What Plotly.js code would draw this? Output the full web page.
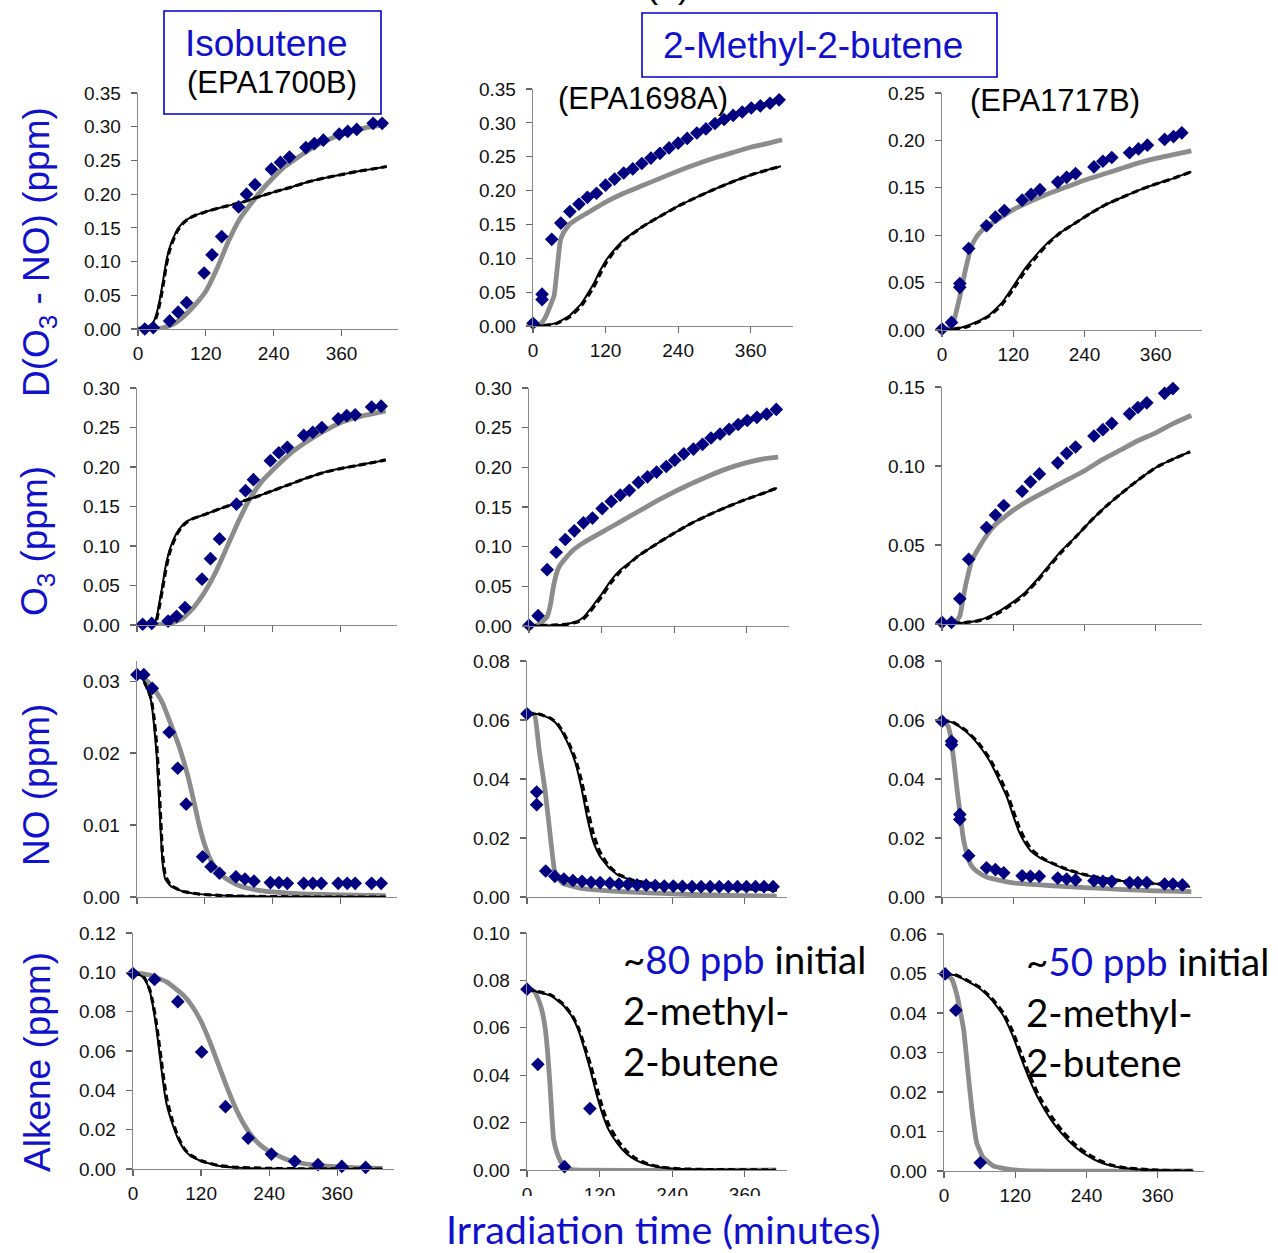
<!DOCTYPE html>
<html><head><meta charset="utf-8">
<script src="https://cdn.plot.ly/plotly-3.0.1.min.js"></script>
<style>html,body{margin:0;padding:0;background:#fff}</style>
</head><body><div id="chart" style="width:1278px;height:1253px"></div>
<script>
// ---------------- DATA ----------------
const TICK_X = [0, 120, 240, 360];
const TICK_X_TEXT = ['0', '120', '240', '360'];

// Isobutene (EPA1700B) - D(O3-NO)
const ISO_D_OBS_T = [12, 27, 56, 71, 86, 117, 131, 148, 178, 192, 207, 236, 252, 268, 297, 312, 328, 356, 371, 387, 416, 432];
const ISO_D_OBS_V = [0.000, 0.002, 0.012, 0.025, 0.039, 0.083, 0.110, 0.137, 0.181, 0.200, 0.214, 0.237, 0.247, 0.255, 0.269, 0.275, 0.280, 0.289, 0.293, 0.296, 0.305, 0.305];
const ISO_D_GRAY_T = [0, 20, 40, 60, 80, 100, 120, 140, 160, 180, 200, 220, 240, 260, 280, 300, 320, 340, 360, 380, 400, 420, 440];
const ISO_D_GRAY_V = [0, 0, 0.001, 0.006, 0.018, 0.035, 0.056, 0.090, 0.130, 0.163, 0.186, 0.207, 0.225, 0.241, 0.253, 0.264, 0.274, 0.282, 0.289, 0.294, 0.298, 0.301, 0.304];
const ISO_D_BLK_T = [0, 15, 25, 30, 35, 40, 45, 50, 55, 60, 70, 80, 90, 100, 120, 150, 180, 210, 240, 270, 300, 330, 360, 390, 420, 440];
const ISO_D_BLK_V = [0, 0.001, 0.008, 0.015, 0.030, 0.050, 0.075, 0.100, 0.118, 0.130, 0.148, 0.158, 0.164, 0.168, 0.174, 0.181, 0.187, 0.195, 0.203, 0.210, 0.218, 0.224, 0.229, 0.234, 0.238, 0.241];
const ISO_D_DSH_V = [0, 0.001, 0.006, 0.012, 0.025, 0.044, 0.068, 0.094, 0.114, 0.127, 0.146, 0.157, 0.164, 0.168, 0.174, 0.181, 0.187, 0.195, 0.203, 0.210, 0.218, 0.224, 0.229, 0.234, 0.238, 0.241];

// Isobutene - O3
const ISO_O_OBS_T = [10, 26, 55, 70, 85, 115, 130, 146, 176, 192, 206, 236, 251, 266, 295, 311, 327, 356, 371, 386, 415, 432];
const ISO_O_OBS_V = [0.001, 0.002, 0.005, 0.011, 0.022, 0.058, 0.084, 0.109, 0.153, 0.170, 0.184, 0.208, 0.218, 0.225, 0.240, 0.244, 0.250, 0.261, 0.265, 0.266, 0.276, 0.277];
const ISO_O_GRAY_T = [0, 30, 60, 80, 100, 120, 140, 160, 180, 200, 220, 240, 260, 280, 300, 320, 340, 360, 380, 400, 420, 440];
const ISO_O_GRAY_V = [0, 0, 0.002, 0.008, 0.022, 0.042, 0.068, 0.100, 0.132, 0.160, 0.181, 0.196, 0.210, 0.222, 0.232, 0.241, 0.249, 0.256, 0.261, 0.265, 0.268, 0.271];
const ISO_O_BLK_T = [0, 25, 30, 35, 40, 45, 50, 55, 60, 70, 80, 90, 100, 120, 150, 180, 210, 240, 270, 300, 330, 360, 390, 420, 440];
const ISO_O_BLK_V = [0, 0, 0.001, 0.010, 0.030, 0.050, 0.072, 0.088, 0.100, 0.116, 0.126, 0.132, 0.135, 0.140, 0.148, 0.155, 0.162, 0.170, 0.178, 0.186, 0.193, 0.198, 0.202, 0.206, 0.209];
const ISO_O_DSH_V = [0, 0, 0.001, 0.007, 0.025, 0.045, 0.066, 0.084, 0.097, 0.114, 0.125, 0.131, 0.135, 0.140, 0.148, 0.155, 0.162, 0.170, 0.178, 0.186, 0.193, 0.198, 0.202, 0.206, 0.209];

// Isobutene - NO
const ISO_N_OBS_T = [0, 12, 27, 57, 72, 87, 116, 131, 146, 175, 191, 207, 236, 251, 266, 295, 311, 326, 356, 372, 386, 415, 432];
const ISO_N_OBS_V = [0.0309, 0.0309, 0.0290, 0.0229, 0.0179, 0.0129, 0.0056, 0.0042, 0.0033, 0.0028, 0.0025, 0.0022, 0.0020, 0.0020, 0.0019, 0.0019, 0.0019, 0.0019, 0.0019, 0.0019, 0.0019, 0.0019, 0.0019];
const ISO_N_GRAY_T = [0, 15, 30, 45, 60, 75, 90, 100, 110, 120, 130, 140, 150, 165, 180, 210, 240, 300, 360, 440];
const ISO_N_GRAY_V = [0.0310, 0.0302, 0.0290, 0.0270, 0.0240, 0.0208, 0.0168, 0.0135, 0.0100, 0.0072, 0.0052, 0.0039, 0.0030, 0.0022, 0.0016, 0.0010, 0.0007, 0.0004, 0.0003, 0.0002];
const ISO_N_BLK_T = [0, 10, 20, 25, 30, 35, 40, 45, 50, 60, 80, 110, 150, 200, 300, 440];
const ISO_N_BLK_V = [0.0310, 0.0303, 0.0285, 0.0272, 0.0240, 0.0195, 0.0120, 0.0050, 0.0025, 0.0015, 0.0008, 0.0004, 0.0002, 0.0001, 0.0000, 0.0000];
const ISO_N_DSH_V = [0.0310, 0.0303, 0.0287, 0.0276, 0.0250, 0.0210, 0.0140, 0.0062, 0.0030, 0.0016, 0.0008, 0.0004, 0.0002, 0.0001, 0.0000, 0.0000];

// Isobutene - Alkene
const ISO_A_OBS_T = [0, 38, 79, 121, 163, 203, 244, 285, 326, 368, 410];
const ISO_A_OBS_V = [0.0994, 0.0964, 0.0851, 0.0595, 0.0317, 0.0157, 0.0076, 0.0039, 0.0022, 0.0013, 0.0008];
const ISO_A_GRAY_T = [0, 30, 60, 90, 105, 120, 135, 150, 165, 180, 195, 210, 225, 240, 270, 300, 330, 360, 400, 440];
const ISO_A_GRAY_V = [0.100, 0.0986, 0.0950, 0.0880, 0.0825, 0.0750, 0.0650, 0.0535, 0.0420, 0.0315, 0.0230, 0.0165, 0.0120, 0.0090, 0.0050, 0.0028, 0.0017, 0.0011, 0.0006, 0.0003];
const ISO_A_BLK_T = [0, 10, 20, 25, 30, 35, 40, 45, 50, 55, 60, 70, 80, 90, 100, 120, 150, 180, 240, 300, 440];
const ISO_A_BLK_V = [0.100, 0.0990, 0.0970, 0.0940, 0.0900, 0.0830, 0.0740, 0.0630, 0.0510, 0.0400, 0.0320, 0.0225, 0.0150, 0.0100, 0.0070, 0.0040, 0.0017, 0.0008, 0.0002, 0.0001, 0.0000];
const ISO_A_DSH_V = [0.100, 0.0990, 0.0972, 0.0945, 0.0908, 0.0845, 0.0765, 0.0660, 0.0550, 0.0440, 0.0350, 0.0240, 0.0160, 0.0105, 0.0073, 0.0042, 0.0018, 0.0009, 0.0003, 0.0001, 0.0000];

// 2-Methyl-2-butene (EPA1698A, ~80 ppb) - D(O3-NO)
const M80_D_OBS_T = [0, 15, 15, 31, 46, 61, 76, 90, 105, 120, 135, 150, 165, 180, 195, 210, 225, 240, 255, 271, 286, 301, 316, 331, 346, 361, 376, 392, 407];
const M80_D_OBS_V = [0.004, 0.047, 0.039, 0.128, 0.152, 0.169, 0.180, 0.190, 0.196, 0.208, 0.217, 0.226, 0.232, 0.240, 0.248, 0.255, 0.263, 0.270, 0.277, 0.285, 0.291, 0.299, 0.305, 0.311, 0.316, 0.322, 0.325, 0.329, 0.334];
const M80_D_GRAY_T = [0, 10, 20, 30, 35, 40, 45, 50, 60, 75, 90, 120, 150, 180, 210, 240, 270, 300, 330, 360, 390, 412];
const M80_D_GRAY_V = [0, 0, 0.012, 0.033, 0.045, 0.085, 0.125, 0.137, 0.150, 0.159, 0.167, 0.183, 0.196, 0.207, 0.218, 0.229, 0.239, 0.248, 0.256, 0.264, 0.270, 0.275];
const M80_D_BLK_T = [0, 20, 40, 60, 80, 100, 110, 120, 135, 150, 180, 210, 240, 270, 300, 330, 360, 390, 410];
const M80_D_BLK_V = [0, 0.001, 0.005, 0.015, 0.033, 0.062, 0.080, 0.096, 0.113, 0.127, 0.146, 0.162, 0.177, 0.190, 0.202, 0.213, 0.223, 0.231, 0.236];
const M80_D_DSH_V = [0, 0.001, 0.004, 0.013, 0.030, 0.057, 0.075, 0.092, 0.111, 0.126, 0.146, 0.162, 0.177, 0.190, 0.202, 0.213, 0.223, 0.231, 0.236];

// ~80 ppb - O3
const M80_O_OBS_T = [0, 15, 30, 45, 60, 75, 90, 105, 121, 136, 151, 166, 181, 196, 211, 227, 241, 256, 272, 287, 301, 316, 331, 346, 361, 377, 393, 409];
const M80_O_OBS_V = [0.001, 0.013, 0.071, 0.093, 0.109, 0.120, 0.130, 0.136, 0.148, 0.157, 0.165, 0.171, 0.181, 0.188, 0.194, 0.201, 0.209, 0.217, 0.223, 0.229, 0.237, 0.242, 0.248, 0.254, 0.259, 0.263, 0.267, 0.273];
const M80_O_GRAY_T = [0, 10, 20, 30, 35, 40, 45, 50, 60, 75, 90, 120, 150, 180, 210, 240, 270, 300, 330, 360, 390, 412];
const M80_O_GRAY_V = [0, 0, 0.004, 0.012, 0.025, 0.048, 0.065, 0.075, 0.085, 0.097, 0.105, 0.118, 0.131, 0.144, 0.157, 0.169, 0.180, 0.190, 0.199, 0.206, 0.211, 0.213];
const M80_O_BLK_T = [0, 40, 60, 80, 90, 100, 110, 120, 135, 150, 165, 180, 210, 240, 270, 300, 330, 360, 390, 410];
const M80_O_BLK_V = [0, 0.001, 0.002, 0.006, 0.011, 0.020, 0.030, 0.040, 0.057, 0.070, 0.079, 0.088, 0.103, 0.117, 0.130, 0.141, 0.151, 0.160, 0.168, 0.174];
const M80_O_DSH_V = [0, 0.001, 0.002, 0.005, 0.009, 0.017, 0.027, 0.037, 0.054, 0.068, 0.078, 0.088, 0.103, 0.117, 0.130, 0.141, 0.151, 0.160, 0.168, 0.174];

// ~80 ppb - NO
const M80_N_OBS_T = [0, 16, 16, 31, 46, 61, 76, 91, 106, 121, 137, 152, 167, 182, 197, 212, 227, 242, 257, 273, 288, 303, 318, 333, 348, 363, 378, 392, 407];
const M80_N_OBS_V = [0.0621, 0.0356, 0.0313, 0.0088, 0.0070, 0.0061, 0.0056, 0.0053, 0.0050, 0.0049, 0.0047, 0.0044, 0.0043, 0.0041, 0.0040, 0.0039, 0.0037, 0.0037, 0.0036, 0.0035, 0.0035, 0.0035, 0.0035, 0.0035, 0.0035, 0.0035, 0.0035, 0.0035, 0.0035];
const M80_N_GRAY_T = [0, 12, 20, 30, 40, 45, 50, 60, 90, 120, 150, 200, 250, 300, 350, 413];
const M80_N_GRAY_V = [0.0620, 0.0620, 0.0500, 0.0360, 0.0180, 0.0095, 0.0065, 0.0045, 0.0029, 0.0023, 0.0019, 0.0014, 0.0010, 0.0007, 0.0005, 0.0003];
const M80_N_BLK_T = [0, 20, 40, 50, 60, 70, 80, 90, 100, 110, 120, 135, 150, 175, 200, 240, 280, 330, 380, 413];
const M80_N_BLK_V = [0.0620, 0.0620, 0.0603, 0.0584, 0.0552, 0.0510, 0.0455, 0.0370, 0.0265, 0.0185, 0.0140, 0.0100, 0.0075, 0.0056, 0.0047, 0.0040, 0.0035, 0.0030, 0.0026, 0.0023];
const M80_N_DSH_V = [0.0620, 0.0620, 0.0605, 0.0588, 0.0558, 0.0518, 0.0468, 0.0395, 0.0300, 0.0212, 0.0155, 0.0106, 0.0078, 0.0057, 0.0047, 0.0040, 0.0035, 0.0030, 0.0026, 0.0023];

// ~80 ppb - Alkene
const M80_A_OBS_T = [0, 18, 62, 104];
const M80_A_OBS_V = [0.0763, 0.0446, 0.0014, 0.0259];
const M80_A_GRAY_T = [0, 12, 18, 24, 30, 34, 38, 44, 50, 56, 62, 70, 80, 412];
const M80_A_GRAY_V = [0.0763, 0.0755, 0.0725, 0.0680, 0.0600, 0.0500, 0.0360, 0.0130, 0.0070, 0.0035, 0.0013, 0.0004, 0, 0];
const M80_A_BLK_T = [0, 20, 40, 60, 75, 85, 95, 105, 115, 125, 135, 150, 165, 180, 200, 220, 250, 300, 412];
const M80_A_BLK_V = [0.0763, 0.0750, 0.0735, 0.0695, 0.0645, 0.0590, 0.0510, 0.0420, 0.0320, 0.0235, 0.0170, 0.0110, 0.0068, 0.0042, 0.0022, 0.0012, 0.0005, 0.0002, 0];
const M80_A_DSH_V = [0.0763, 0.0752, 0.0738, 0.0700, 0.0652, 0.0600, 0.0525, 0.0445, 0.0350, 0.0262, 0.0192, 0.0125, 0.0078, 0.0048, 0.0025, 0.0013, 0.0005, 0.0002, 0];

// 2-Methyl-2-butene (EPA1717B, ~50 ppb) - D(O3-NO)
const M50_D_OBS_T = [0, 16, 30, 30, 45, 75, 90, 105, 135, 150, 165, 195, 210, 225, 256, 271, 286, 316, 331, 346, 375, 390, 404];
const M50_D_OBS_V = [0.001, 0.008, 0.045, 0.049, 0.086, 0.110, 0.119, 0.126, 0.137, 0.143, 0.148, 0.156, 0.161, 0.165, 0.172, 0.178, 0.182, 0.187, 0.191, 0.195, 0.201, 0.204, 0.208];
const M50_D_GRAY_T = [0, 10, 20, 25, 30, 35, 40, 45, 50, 60, 75, 90, 120, 150, 180, 210, 240, 270, 300, 330, 360, 390, 420];
const M50_D_GRAY_V = [0, 0.001, 0.010, 0.022, 0.035, 0.050, 0.065, 0.078, 0.089, 0.100, 0.109, 0.115, 0.127, 0.136, 0.144, 0.151, 0.158, 0.164, 0.170, 0.176, 0.181, 0.185, 0.189];
const M50_D_BLK_T = [0, 20, 40, 60, 80, 100, 120, 140, 160, 180, 200, 225, 250, 275, 300, 330, 360, 390, 420];
const M50_D_BLK_V = [0, 0.001, 0.004, 0.009, 0.016, 0.028, 0.046, 0.065, 0.080, 0.093, 0.103, 0.113, 0.123, 0.132, 0.139, 0.147, 0.154, 0.160, 0.167];
const M50_D_DSH_V = [0, 0.001, 0.003, 0.008, 0.015, 0.026, 0.043, 0.062, 0.078, 0.092, 0.103, 0.113, 0.123, 0.132, 0.139, 0.147, 0.154, 0.160, 0.167];

// ~50 ppb - O3
const M50_O_OBS_T = [0, 16, 30, 45, 75, 90, 104, 135, 149, 164, 195, 210, 225, 256, 271, 286, 316, 330, 345, 375, 389];
const M50_O_OBS_V = [0.001, 0.001, 0.016, 0.041, 0.061, 0.069, 0.075, 0.084, 0.090, 0.095, 0.102, 0.108, 0.112, 0.119, 0.123, 0.127, 0.133, 0.137, 0.140, 0.146, 0.149];
const M50_O_GRAY_T = [0, 20, 30, 35, 40, 45, 50, 60, 75, 90, 120, 150, 180, 210, 240, 270, 300, 330, 360, 390, 420];
const M50_O_GRAY_V = [0, 0, 0.005, 0.015, 0.025, 0.033, 0.040, 0.047, 0.056, 0.063, 0.072, 0.079, 0.085, 0.091, 0.097, 0.104, 0.110, 0.116, 0.121, 0.127, 0.132];
const M50_O_BLK_T = [0, 40, 60, 80, 100, 120, 140, 160, 180, 200, 225, 250, 275, 300, 330, 360, 390, 418];
const M50_O_BLK_V = [0, 0.001, 0.002, 0.005, 0.009, 0.014, 0.020, 0.028, 0.037, 0.046, 0.055, 0.065, 0.074, 0.082, 0.091, 0.099, 0.1045, 0.109];
const M50_O_DSH_V = [0, 0.001, 0.002, 0.004, 0.008, 0.013, 0.019, 0.027, 0.036, 0.045, 0.055, 0.065, 0.074, 0.082, 0.091, 0.099, 0.1045, 0.109];

// ~50 ppb - NO
const M50_N_OBS_T = [0, 16, 16, 30, 30, 45, 75, 90, 104, 135, 149, 164, 195, 210, 225, 256, 271, 286, 316, 330, 345, 375, 389, 405];
const M50_N_OBS_V = [0.0596, 0.0528, 0.0516, 0.0280, 0.0263, 0.0140, 0.0099, 0.0093, 0.0082, 0.0072, 0.0070, 0.0070, 0.0064, 0.0061, 0.0058, 0.0055, 0.0053, 0.0053, 0.0049, 0.0049, 0.0049, 0.0044, 0.0044, 0.0041];
const M50_N_GRAY_T = [0, 10, 15, 20, 25, 30, 35, 40, 45, 50, 60, 75, 90, 120, 150, 180, 240, 300, 360, 420];
const M50_N_GRAY_V = [0.0600, 0.0580, 0.0540, 0.0460, 0.0370, 0.0290, 0.0210, 0.0160, 0.0125, 0.0105, 0.0085, 0.0068, 0.0060, 0.0048, 0.0043, 0.0039, 0.0032, 0.0026, 0.0021, 0.0018];
const M50_N_BLK_T = [0, 20, 40, 60, 80, 100, 110, 120, 130, 140, 150, 165, 180, 210, 240, 270, 300, 330, 360, 390, 418];
const M50_N_BLK_V = [0.0600, 0.0590, 0.0562, 0.0520, 0.0462, 0.0380, 0.0335, 0.0275, 0.0220, 0.0182, 0.0155, 0.0133, 0.0118, 0.0093, 0.0075, 0.0063, 0.0055, 0.0050, 0.0045, 0.0040, 0.0035];
const M50_N_DSH_V = [0.0600, 0.0591, 0.0565, 0.0526, 0.0470, 0.0395, 0.0350, 0.0292, 0.0236, 0.0194, 0.0163, 0.0137, 0.0120, 0.0094, 0.0076, 0.0064, 0.0056, 0.0050, 0.0045, 0.0040, 0.0035];

// ~50 ppb - Alkene
const M50_A_OBS_T = [2, 20, 61];
const M50_A_OBS_V = [0.0499, 0.0407, 0.0021];
const M50_A_GRAY_T = [0, 13, 22, 33, 41, 47, 55, 66, 83, 110, 150, 420];
const M50_A_GRAY_V = [0.0500, 0.0486, 0.0444, 0.0359, 0.0241, 0.0156, 0.0072, 0.0034, 0.0013, 0.0004, 0, 0];
const M50_A_BLK_T = [0, 20, 40, 60, 80, 100, 115, 130, 145, 160, 180, 200, 220, 240, 260, 280, 300, 330, 360, 420];
const M50_A_BLK_V = [0.0500, 0.0495, 0.0480, 0.0462, 0.0434, 0.0393, 0.0345, 0.0285, 0.0228, 0.0180, 0.0130, 0.0092, 0.0062, 0.0040, 0.0024, 0.0014, 0.0008, 0.0004, 0.0002, 0];
const M50_A_DSH_V = [0.0500, 0.0496, 0.0482, 0.0465, 0.0438, 0.0400, 0.0356, 0.0298, 0.0240, 0.0190, 0.0140, 0.0100, 0.0068, 0.0045, 0.0028, 0.0016, 0.0009, 0.0005, 0.0002, 0];

// ---------------- LAYOUT (geometry & style) ----------------
const W = 1278, H = 1253;
const FA = '"Liberation Sans", Arial, Helvetica, sans-serif';
const FC = 'Lato, Carlito, Calibri, sans-serif';
const BLUE = '#1111CC';
const NAVY = '#000080';

// panel boxes in pixels: [x0, x1], [yTop, yBottom]
const PANELS = [
  {px:[138,398], py:[93,329],  xr:[0,460], yr:[0,0.35],   dy:0.05, d:[ISO_D_OBS_T,ISO_D_OBS_V,ISO_D_GRAY_T,ISO_D_GRAY_V,ISO_D_BLK_T,ISO_D_BLK_V,ISO_D_DSH_V]},
  {px:[533,793], py:[89,326],  xr:[0,430], yr:[0,0.35],   dy:0.05, d:[M80_D_OBS_T,M80_D_OBS_V,M80_D_GRAY_T,M80_D_GRAY_V,M80_D_BLK_T,M80_D_BLK_V,M80_D_DSH_V]},
  {px:[942,1202],py:[93,330],  xr:[0,438], yr:[0,0.25],   dy:0.05, d:[M50_D_OBS_T,M50_D_OBS_V,M50_D_GRAY_T,M50_D_GRAY_V,M50_D_BLK_T,M50_D_BLK_V,M50_D_DSH_V]},
  {px:[137,397], py:[388,625], xr:[0,460], yr:[0,0.30],   dy:0.05, d:[ISO_O_OBS_T,ISO_O_OBS_V,ISO_O_GRAY_T,ISO_O_GRAY_V,ISO_O_BLK_T,ISO_O_BLK_V,ISO_O_DSH_V]},
  {px:[529,789], py:[388,626], xr:[0,430], yr:[0,0.30],   dy:0.05, d:[M80_O_OBS_T,M80_O_OBS_V,M80_O_GRAY_T,M80_O_GRAY_V,M80_O_BLK_T,M80_O_BLK_V,M80_O_DSH_V]},
  {px:[942,1202],py:[387,624], xr:[0,438], yr:[0,0.15],   dy:0.05, d:[M50_O_OBS_T,M50_O_OBS_V,M50_O_GRAY_T,M50_O_GRAY_V,M50_O_BLK_T,M50_O_BLK_V,M50_O_DSH_V]},
  {px:[137,397], py:[661,897], xr:[0,460], yr:[0,0.0328], dy:0.01, d:[ISO_N_OBS_T,ISO_N_OBS_V,ISO_N_GRAY_T,ISO_N_GRAY_V,ISO_N_BLK_T,ISO_N_BLK_V,ISO_N_DSH_V]},
  {px:[527,787], py:[661,897], xr:[0,430], yr:[0,0.08],   dy:0.02, d:[M80_N_OBS_T,M80_N_OBS_V,M80_N_GRAY_T,M80_N_GRAY_V,M80_N_BLK_T,M80_N_BLK_V,M80_N_DSH_V]},
  {px:[942,1202],py:[661,897], xr:[0,438], yr:[0,0.08],   dy:0.02, d:[M50_N_OBS_T,M50_N_OBS_V,M50_N_GRAY_T,M50_N_GRAY_V,M50_N_BLK_T,M50_N_BLK_V,M50_N_DSH_V]},
  {px:[133,394], py:[933,1169],xr:[0,460], yr:[0,0.12],   dy:0.02, d:[ISO_A_OBS_T,ISO_A_OBS_V,ISO_A_GRAY_T,ISO_A_GRAY_V,ISO_A_BLK_T,ISO_A_BLK_V,ISO_A_DSH_V]},
  {px:[527,787], py:[933,1170],xr:[0,430], yr:[0,0.10],   dy:0.02, d:[M80_A_OBS_T,M80_A_OBS_V,M80_A_GRAY_T,M80_A_GRAY_V,M80_A_BLK_T,M80_A_BLK_V,M80_A_DSH_V]},
  {px:[944,1204],py:[934,1171],xr:[0,438], yr:[0,0.06],   dy:0.01, d:[M50_A_OBS_T,M50_A_OBS_V,M50_A_GRAY_T,M50_A_GRAY_V,M50_A_BLK_T,M50_A_BLK_V,M50_A_DSH_V]}
];

const traces = [];
const layout = {
  width: W, height: H,
  margin: {l:0, r:0, t:0, b:0},
  paper_bgcolor: '#fff', plot_bgcolor: 'rgba(0,0,0,0)',
  showlegend: false,
  font: {family: FA, color: '#111'},
  annotations: [], shapes: []
};

PANELS.forEach((p, i) => {
  const n = i + 1;
  const sx = n === 1 ? '' : String(n);
  const row = Math.floor(i / 3);
  const [oT, oV, gT, gV, bT, bV, dV] = p.d;
  const ax = {xaxis: 'x' + sx, yaxis: 'y' + sx};
  traces.push(Object.assign({type:'scatter', mode:'lines', x:gT, y:gV,
    line:{color:'#8c8c8c', width:4.8, shape:'spline', smoothing:0.4}, hoverinfo:'skip'}, ax));
  traces.push(Object.assign({type:'scatter', mode:'lines', x:bT, y:bV,
    line:{color:'#000', width:2, shape:'spline', smoothing:0.4}, hoverinfo:'skip'}, ax));
  traces.push(Object.assign({type:'scatter', mode:'lines', x:bT, y:dV,
    line:{color:'#000', width:3.2, dash:'7px,4px', shape:'spline', smoothing:0.4}, hoverinfo:'skip'}, ax));
  traces.push(Object.assign({type:'scatter', mode:'markers', x:oT, y:oV, cliponaxis:false,
    marker:{symbol:'diamond', size:10.5, color:NAVY, line:{width:0}}}, ax));

  const tickfont = {family: FA, size: 19, color: '#111'};
  layout['xaxis' + sx] = {
    domain: [p.px[0] / W, p.px[1] / W], range: p.xr, anchor: 'y' + sx,
    showline: true, linecolor: '#8a8a8a', linewidth: 1.3, mirror: false,
    ticks: 'outside', ticklen: 6, tickwidth: 1.2, tickcolor: '#666',
    tickmode: 'array', tickvals: TICK_X, ticktext: TICK_X_TEXT,
    showticklabels: (row === 0 || row === 3), tickfont: tickfont,
    ticklabelstandoff: 1,
    showgrid: false, zeroline: false, fixedrange: true
  };
  layout['yaxis' + sx] = {
    domain: [1 - p.py[1] / H, 1 - p.py[0] / H], range: p.yr, anchor: 'x' + sx,
    showline: true, linecolor: '#8a8a8a', linewidth: 1.3,
    ticks: 'outside', ticklen: 6, tickwidth: 1.2, tickcolor: '#666',
    tick0: 0, dtick: p.dy, tickformat: '.2f', tickfont: tickfont,
    ticklabelstandoff: 6,
    showgrid: false, zeroline: false, fixedrange: true
  };
});

function ann(text, xpx, ypx, size, color, family, extra) {
  return Object.assign({text: text, xref:'paper', yref:'paper', x: xpx / W, y: 1 - ypx / H,
    xanchor:'center', yanchor:'middle', showarrow:false,
    font:{family: family, size: size, color: color}}, extra || {});
}

// header boxes
layout.shapes.push({type:'rect', xref:'paper', yref:'paper', x0:164/W, x1:381/W, y0:1-114/H, y1:1-11/H,
  line:{color:'#0000CC', width:1.6}, fillcolor:'rgba(255,255,255,0)', layer:'above'});
layout.shapes.push({type:'rect', xref:'paper', yref:'paper', x0:642/W, x1:997/W, y0:1-77/H, y1:1-13/H,
  line:{color:'#0000CC', width:1.6}, fillcolor:'rgba(255,255,255,0)', layer:'above'});
// white strip that hides the lower part of the middle bottom tick labels
layout.shapes.push({type:'rect', xref:'paper', yref:'paper', x0:505/W, x1:815/W, y0:1-1212/H, y1:1-1196/H,
  line:{width:0}, fillcolor:'#ffffff', layer:'above'});

const A = layout.annotations;
A.push(ann('(a)', 668, -15, 36, '#000', FA, {}));
A.push(ann('Isobutene', 266, 44, 37, BLUE, FA));
A.push(ann('(EPA1700B)', 272, 82, 31, '#000', FA));
A.push(ann('2-Methyl-2-butene', 813, 46, 37, BLUE, FA));
A.push(ann('(EPA1698A)', 643, 98, 31, '#000', FA));
A.push(ann('(EPA1717B)', 1055, 100, 31, '#000', FA));

// y-axis titles
A.push(ann('D(O<sub>3</sub> - NO) (ppm)', 39, 252, 37, BLUE, FA, {textangle:-90}));
A.push(ann('O<sub>3</sub> (ppm)', 37, 541, 37, BLUE, FA, {textangle:-90}));
A.push(ann('NO (ppm)', 36, 785, 37, BLUE, FA, {textangle:-90}));
A.push(ann('Alkene (ppm)', 37, 1062, 37, BLUE, FA, {textangle:-90}));

// x-axis title
A.push(ann('Irradiation time (minutes)', 663, 1228, 39.5, BLUE, FC));

// initial concentration notes
const sp = (t) => '<span style="color:' + BLUE + '">' + t + '</span>';
A.push(ann('~' + sp('80 ppb') + ' initial', 621, 959, 38.5, '#000', FC, {xanchor:'left'}));
A.push(ann('2-methyl-', 621, 1010, 38.5, '#000', FC, {xanchor:'left'}));
A.push(ann('2-butene', 621, 1061, 38.5, '#000', FC, {xanchor:'left'}));
A.push(ann('~' + sp('50 ppb') + ' initial', 1024, 961, 38.5, '#000', FC, {xanchor:'left'}));
A.push(ann('2-methyl-', 1024, 1012, 38.5, '#000', FC, {xanchor:'left'}));
A.push(ann('2-butene', 1024, 1062, 38.5, '#000', FC, {xanchor:'left'}));

Plotly.newPlot('chart', traces, layout, {staticPlot: true, displayModeBar: false});
</script></body></html>
